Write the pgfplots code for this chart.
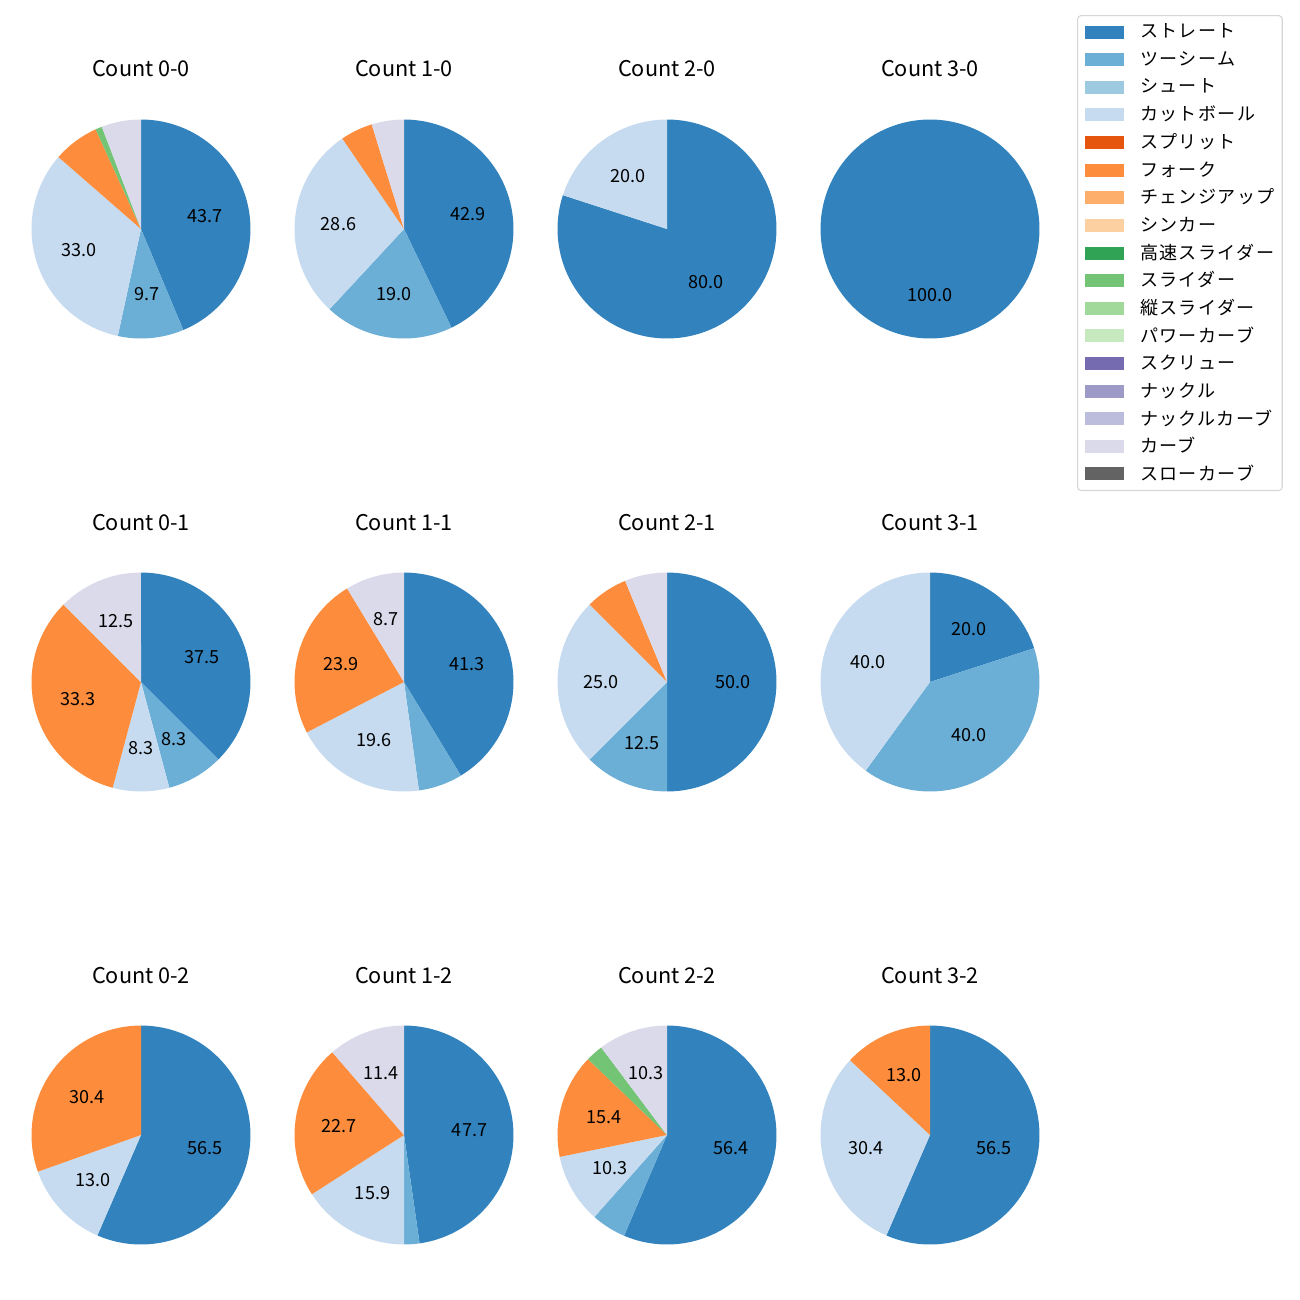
\documentclass[border=0pt]{standalone}
\usepackage{fontspec}
\setmainfont{Noto Sans CJK JP}
\usepackage{pgfplots}
\pgfplotsset{compat=1.18}
\definecolor{cA}{HTML}{3182BD}
\definecolor{cB}{HTML}{6BAED6}
\definecolor{cC}{HTML}{9ECAE1}
\definecolor{cD}{HTML}{C6DBEF}
\definecolor{cE}{HTML}{E6550D}
\definecolor{cF}{HTML}{FD8D3C}
\definecolor{cG}{HTML}{FDAE6B}
\definecolor{cH}{HTML}{FDD0A2}
\definecolor{cI}{HTML}{31A354}
\definecolor{cJ}{HTML}{74C476}
\definecolor{cK}{HTML}{A1D99B}
\definecolor{cL}{HTML}{C7E9C0}
\definecolor{cM}{HTML}{756BB1}
\definecolor{cN}{HTML}{9E9AC8}
\definecolor{cO}{HTML}{BCBDDC}
\definecolor{cP}{HTML}{DADAEB}
\definecolor{cQ}{HTML}{636363}
\definecolor{legframe}{HTML}{D6D6D6}
\def\U{0.554pt}
\gdef\acc{0}
% \slice{percent}{colour}{label}
\newcommand\slice[3]{%
  \pgfmathsetmacro\aS{90-3.6*(\acc+#1)}%
  \pgfmathsetmacro\aE{90-3.6*\acc}%
  \pgfmathtruncatemacro\ns{max(4,2.4*#1)+2}%
  \edef\tmp{\noexpand\addplot[fill=#2,draw=none,forget plot,domain=\aS:\aE,samples=\ns] ({cos(x)},{sin(x)}) -- (axis cs:0,0) -- cycle;}%
  \tmp
  \def\lbl{#3}%
  \ifx\lbl\empty\else
    \pgfmathsetmacro\aM{90-3.6*(\acc+#1/2)}%
    \pgfmathsetmacro\lx{0.6*cos(\aM)}%
    \pgfmathsetmacro\ly{0.6*sin(\aM)}%
    \edef\tmp{\noexpand\node[font=\noexpand\fontsize{10}{12}\noexpand\selectfont] at (axis cs:\lx,\ly) {#3};}%
    \tmp
  \fi
  \pgfmathsetmacro\newacc{\acc+#1}%
  \xdef\acc{\newacc}%
}
\newcommand\pietitle[1]{\gdef\acc{0}\node[font=\fontsize{12}{14}\selectfont] at (axis cs:0,1.461) {#1};}
\pgfplotsset{pieaxis/.style={hide axis, scale only axis, width=121.3pt, height=121.3pt,
  xmin=-1, xmax=1, ymin=-1, ymax=1, anchor=center, clip=false}}
\begin{document}
\begin{tikzpicture}
\path[use as bounding box] (0,0) rectangle (1300*\U,-1300*\U);
% ---- row 1
\begin{axis}[pieaxis, at={(141*\U,-229*\U)}]
\pietitle{Count 0-0}
\slice{43.689}{cA}{43.7}\slice{9.709}{cB}{9.7}\slice{33.010}{cD}{33.0}\slice{6.796}{cF}{}\slice{0.971}{cJ}{}\slice{5.825}{cP}{}
\end{axis}
\begin{axis}[pieaxis, at={(404*\U,-229*\U)}]
\pietitle{Count 1-0}
\slice{42.857}{cA}{42.9}\slice{19.048}{cB}{19.0}\slice{28.571}{cD}{28.6}\slice{4.762}{cF}{}\slice{4.762}{cP}{}
\end{axis}
\begin{axis}[pieaxis, at={(667*\U,-229*\U)}]
\pietitle{Count 2-0}
\slice{80}{cA}{80.0}\slice{20}{cD}{20.0}
\end{axis}
\begin{axis}[pieaxis, at={(930*\U,-229*\U)}]
\pietitle{Count 3-0}
\slice{100}{cA}{100.0}
\end{axis}
% ---- row 2
\begin{axis}[pieaxis, at={(141*\U,-682*\U)}]
\pietitle{Count 0-1}
\slice{37.5}{cA}{37.5}\slice{8.333}{cB}{8.3}\slice{8.333}{cD}{8.3}\slice{33.333}{cF}{33.3}\slice{12.5}{cP}{12.5}
\end{axis}
\begin{axis}[pieaxis, at={(404*\U,-682*\U)}]
\pietitle{Count 1-1}
\slice{41.304}{cA}{41.3}\slice{6.522}{cB}{}\slice{19.565}{cD}{19.6}\slice{23.913}{cF}{23.9}\slice{8.696}{cP}{8.7}
\end{axis}
\begin{axis}[pieaxis, at={(667*\U,-682*\U)}]
\pietitle{Count 2-1}
\slice{50}{cA}{50.0}\slice{12.5}{cB}{12.5}\slice{25}{cD}{25.0}\slice{6.25}{cF}{}\slice{6.25}{cP}{}
\end{axis}
\begin{axis}[pieaxis, at={(930*\U,-682*\U)}]
\pietitle{Count 3-1}
\slice{20}{cA}{20.0}\slice{40}{cB}{40.0}\slice{40}{cD}{40.0}
\end{axis}
% ---- row 3
\begin{axis}[pieaxis, at={(141*\U,-1135*\U)}]
\pietitle{Count 0-2}
\slice{56.522}{cA}{56.5}\slice{13.043}{cD}{13.0}\slice{30.435}{cF}{30.4}
\end{axis}
\begin{axis}[pieaxis, at={(404*\U,-1135*\U)}]
\pietitle{Count 1-2}
\slice{47.727}{cA}{47.7}\slice{2.273}{cB}{}\slice{15.909}{cD}{15.9}\slice{22.727}{cF}{22.7}\slice{11.364}{cP}{11.4}
\end{axis}
\begin{axis}[pieaxis, at={(667*\U,-1135*\U)}]
\pietitle{Count 2-2}
\slice{56.410}{cA}{56.4}\slice{5.128}{cB}{}\slice{10.256}{cD}{10.3}\slice{15.385}{cF}{15.4}\slice{2.564}{cJ}{}\slice{10.256}{cP}{10.3}
\end{axis}
\begin{axis}[pieaxis, at={(930*\U,-1135*\U)}]
\pietitle{Count 3-2}
\slice{56.522}{cA}{56.5}\slice{30.435}{cD}{30.4}\slice{13.043}{cF}{13.0}
\end{axis}
% ---- legend
\begin{axis}[hide axis, scale only axis, width=10pt, height=10pt, xmin=0, xmax=1, ymin=0, ymax=1,
  at={(1077*\U,-15*\U)}, anchor=north west,
  legend image code/.code={\fill[#1,draw=none,sharp corners] (0pt,-3.6pt) rectangle (21.6pt,3.6pt);},
  legend cell align=left,
  legend style={at={(axis description cs:0,1)}, anchor=north west,
    draw=legframe, line width=0.6pt, rounded corners=2pt,
    font=\fontsize{10}{12}\selectfont\addfontfeature{LetterSpace=8}, inner xsep=4pt, inner ysep=1.5pt, row sep=0pt,
    nodes={inner sep=0pt, minimum height=15.3pt},
    /tikz/every odd column/.append style={column sep=9pt}}]
\addlegendimage{fill=cA}\addlegendentry{ストレート}
\addlegendimage{fill=cB}\addlegendentry{ツーシーム}
\addlegendimage{fill=cC}\addlegendentry{シュート}
\addlegendimage{fill=cD}\addlegendentry{カットボール}
\addlegendimage{fill=cE}\addlegendentry{スプリット}
\addlegendimage{fill=cF}\addlegendentry{フォーク}
\addlegendimage{fill=cG}\addlegendentry{チェンジアップ}
\addlegendimage{fill=cH}\addlegendentry{シンカー}
\addlegendimage{fill=cI}\addlegendentry{高速スライダー}
\addlegendimage{fill=cJ}\addlegendentry{スライダー}
\addlegendimage{fill=cK}\addlegendentry{縦スライダー}
\addlegendimage{fill=cL}\addlegendentry{パワーカーブ}
\addlegendimage{fill=cM}\addlegendentry{スクリュー}
\addlegendimage{fill=cN}\addlegendentry{ナックル}
\addlegendimage{fill=cO}\addlegendentry{ナックルカーブ}
\addlegendimage{fill=cP}\addlegendentry{カーブ}
\addlegendimage{fill=cQ}\addlegendentry{スローカーブ}
\end{axis}
\end{tikzpicture}
\end{document}
